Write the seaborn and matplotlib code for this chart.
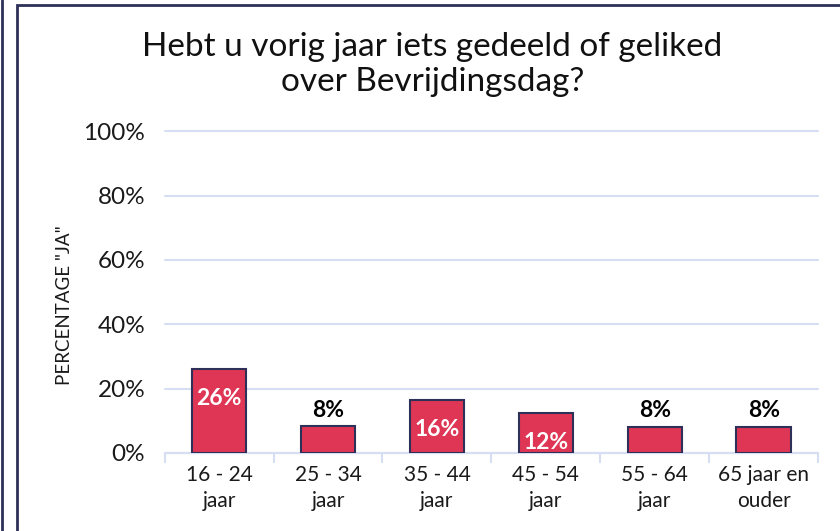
import pandas as pd
import seaborn as sns
import matplotlib.pyplot as plt
from matplotlib.lines import Line2D
from matplotlib.patches import Rectangle

# data
categorieen = ['16 - 24\njaar', '25 - 34\njaar', '35 - 44\njaar',
               '45 - 54\njaar', '55 - 64\njaar', '65 jaar en\nouder']
percentage_ja = [26.1, 8.3, 16.6, 12.4, 8.2, 8.2]
labels = ['26%', '8%', '16%', '12%', '8%', '8%']
label_binnen = [True, False, True, True, False, False]
y_ticks = [0, 20, 40, 60, 80, 100]

ROOD = '#de3654'
NAVY = '#2e3058'
RASTER = '#d5def2'

sns.set_theme(style='white')
plt.rcParams['font.family'] = ['Lato', 'DejaVu Sans']

df = pd.DataFrame({'leeftijd': categorieen, 'ja': percentage_ja})

fig = plt.figure(figsize=(8.4, 5.31), dpi=100)
ax = fig.add_axes([0.196, 0.147, 0.778, 0.606])

sns.barplot(data=df, x='leeftijd', y='ja', color=ROOD, saturation=1,
            edgecolor=NAVY, linewidth=1.5, width=0.5, ax=ax, zorder=3)

ax.set_ylim(0, 100)
ax.set_yticks(y_ticks)
ax.set_yticklabels([f'{t}%' for t in y_ticks])
ax.set_xlim(-0.5, len(categorieen) - 0.5)
ax.grid(axis='y', color=RASTER, linewidth=1.5, zorder=0)
ax.set_axisbelow(True)
for lijn in ax.get_ygridlines():
    lijn.set_clip_on(False)

for kant in ['top', 'right', 'left']:
    ax.spines[kant].set_visible(False)
ax.spines['bottom'].set_color(RASTER)
ax.spines['bottom'].set_linewidth(1.5)

ax.set_xticks([i - 0.5 for i in range(len(categorieen) + 1)], minor=True)
ax.tick_params(axis='x', which='minor', length=7, width=1.5, color=RASTER, bottom=True)
ax.tick_params(axis='x', which='major', length=0, pad=9, labelsize=15, labelcolor='#1a1a1a')
for lbl in ax.get_xticklabels():
    lbl.set_linespacing(1.35)
ax.tick_params(axis='y', length=0, pad=14, labelsize=17.5, labelcolor='#1a1a1a')

ax.set_xlabel('')
ax.set_ylabel('PERCENTAGE "JA"', fontsize=13.5, color='#1a1a1a')
ax.yaxis.set_label_coords(-0.14, 0.46)

for i, (v, txt, binnen) in enumerate(zip(percentage_ja, labels, label_binnen)):
    if binnen:
        ax.text(i, v - 9.2, txt, ha='center', va='center', color='white',
                fontsize=16.5, fontweight='bold', clip_on=True, zorder=5)
    else:
        ax.text(i, v + 5, txt, ha='center', va='center', color='black',
                fontsize=16.5, fontweight='bold', zorder=5)

fig.text(0.515, 0.878, 'Hebt u vorig jaar iets gedeeld of geliked\nover Bevrijdingsdag?',
         ha='center', va='center', fontsize=24, color='#111111', linespacing=1.2)

# kaders rond de grafiek
fig.patches.append(Rectangle((17 / 840, -0.1), 1.0, 1 - 5 / 531 + 0.1,
                             transform=fig.transFigure, fill=False,
                             edgecolor=NAVY, linewidth=2))
fig.lines.append(Line2D([2 / 840, 2 / 840], [0, 1], transform=fig.transFigure,
                        color=NAVY, linewidth=2))

fig.savefig('out.png', dpi=100)
